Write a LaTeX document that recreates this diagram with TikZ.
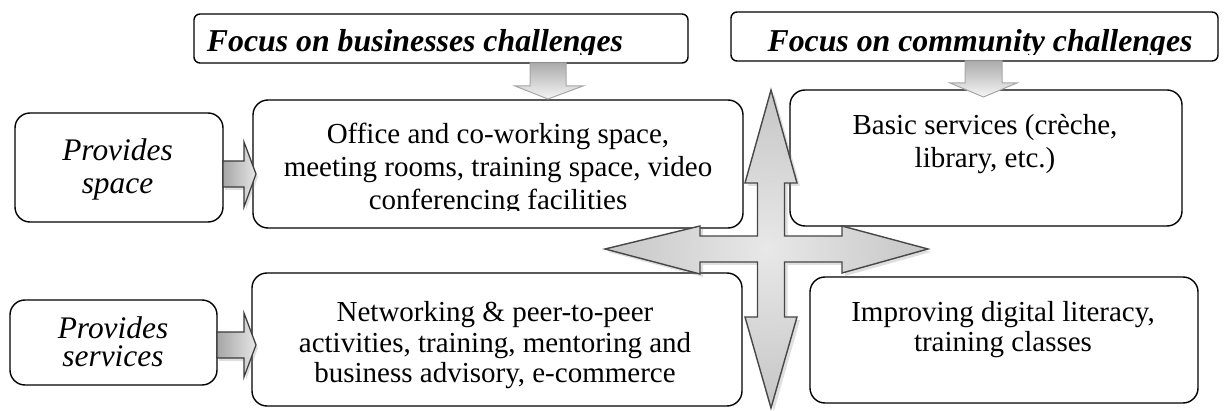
\documentclass[tikz,border=0pt]{standalone}
\usepackage{fontspec}
\setmainfont{Liberation Serif}
\usetikzlibrary{shadows}
\begin{document}
\begin{tikzpicture}[x=0.5pt,y=-0.5pt,
  box/.style={draw=black, line width=0.7pt, rounded corners=7.5pt, fill=white, inner sep=0pt},
  hdr/.style={draw=black, line width=0.7pt, rounded corners=3pt, fill=white, inner sep=0pt},
  txt/.style={align=center, inner sep=0pt, font=\fontsize{14.5}{15.5}\selectfont},
  itxt/.style={align=center, inner sep=0pt, font=\fontsize{15.7}{16.5}\selectfont\itshape},
  htxt/.style={inner sep=0pt, anchor=base, font=\fontsize{15.9}{17}\selectfont\bfseries\itshape},
  downarrow/.style={draw=gray!70, line width=0.5pt, top color=gray!65, bottom color=gray!8},
  rightarrow/.style={draw=gray!45!black, line width=0.6pt, left color=gray!70, right color=gray!20,
     drop shadow={opacity=0.25, shadow xshift=1pt, shadow yshift=-1.5pt}},
  crossarrow/.style={draw=gray!55!black, line width=0.7pt, inner color=gray!18, outer color=gray!45,
     drop shadow={opacity=0.25, shadow xshift=1.5pt, shadow yshift=-1.5pt}},
]
\useasboundingbox (0,0) rectangle (1226,411);

% headers
\node[hdr, minimum width=247pt, minimum height=24.5pt] (hdr1) at (441,38.5) {};
\node[hdr, minimum width=243.5pt, minimum height=24.5pt] (hdr2) at (974.5,36.5) {};
\begin{scope}
  \clip (194,14) rectangle (688,54.5);
  \node[htxt] (h1t) at (415,52) {Focus on businesses challenges};
\end{scope}
\begin{scope}
  \clip (731,12) rectangle (1218,54.5);
  \node[htxt] (h2t) at (980,52) {Focus on community challenges};
\end{scope}

% left boxes
\node[box, minimum width=104pt, minimum height=54.5pt] (space) at (119,167.5) {};
\node[itxt] (spacet) at (117.5,169) {Provides\\space};
\node[box, minimum width=103.5pt, minimum height=42.5pt] (serv) at (113.5,342.5) {};
\node[itxt, font=\fontsize{15.7}{14.2}\selectfont\itshape] (servt) at (113,342) {Provides\\services};

% main boxes
\node[box, minimum width=245pt, minimum height=64pt] (office) at (498,164) {};
\begin{scope}
  \clip (253,100) rectangle (743,211);
  \node[txt, font=\fontsize{14.5}{16.5}\selectfont] (officet) at (498,169)
    {Office and co-working space,\\meeting rooms, training space, video\\conferencing facilities};
\end{scope}
\node[box, minimum width=245pt, minimum height=66.5pt] (netw) at (497,339.5) {};
\node[txt, font=\fontsize{14.5}{15.25}\selectfont] (netwt) at (495,345.5)
  {Networking \& peer-to-peer\\activities, training, mentoring and\\business advisory, e-commerce};
\node[box, minimum width=196pt, minimum height=68pt] (basic) at (986,158) {};
\node[txt, font=\fontsize{14.5}{16.5}\selectfont] (basict) at (985,144.5)
  {Basic services (crèche,\\library, etc.)};
\node[box, minimum width=194pt, minimum height=63pt] (impr) at (1004,340) {};
\node[txt, font=\fontsize{14.5}{15}\selectfont] (imprt) at (1003,330)
  {Improving digital literacy,\\training classes};

% down arrows
\draw[downarrow] (530,63) -- (566,63) -- (566,86) -- (583,86) -- (548,99) -- (515,86) -- (530,86) -- cycle;
\draw[downarrow] (965,61) -- (1002,61) -- (1002,83) -- (1017,83) -- (983.5,97) -- (950,83) -- (965,83) -- cycle;

% right arrows
\draw[rightarrow] (223,161) -- (244,161) -- (244,142) -- (256,174) -- (244,207) -- (244,187) -- (223,187) -- cycle;
\draw[rightarrow] (217,332) -- (244,332) -- (244,313) -- (256,345) -- (244,377) -- (244,358) -- (217,358) -- cycle;

% cross arrow
\coordinate (cross) at (771,249);
\draw[crossarrow] (771,90) -- (797,183) -- (784.5,183) -- (784.5,236) -- (842,236) -- (842,226)
  -- (928,249) -- (842,273) -- (842,262) -- (784.5,262) -- (784.5,317) -- (797,317)
  -- (771,408) -- (745,317) -- (757.5,317) -- (757.5,262) -- (700,262) -- (700,274)
  -- (605,249) -- (700,226) -- (700,236) -- (757.5,236) -- (757.5,183) -- (745,183) -- cycle;
\end{tikzpicture}
\end{document}
